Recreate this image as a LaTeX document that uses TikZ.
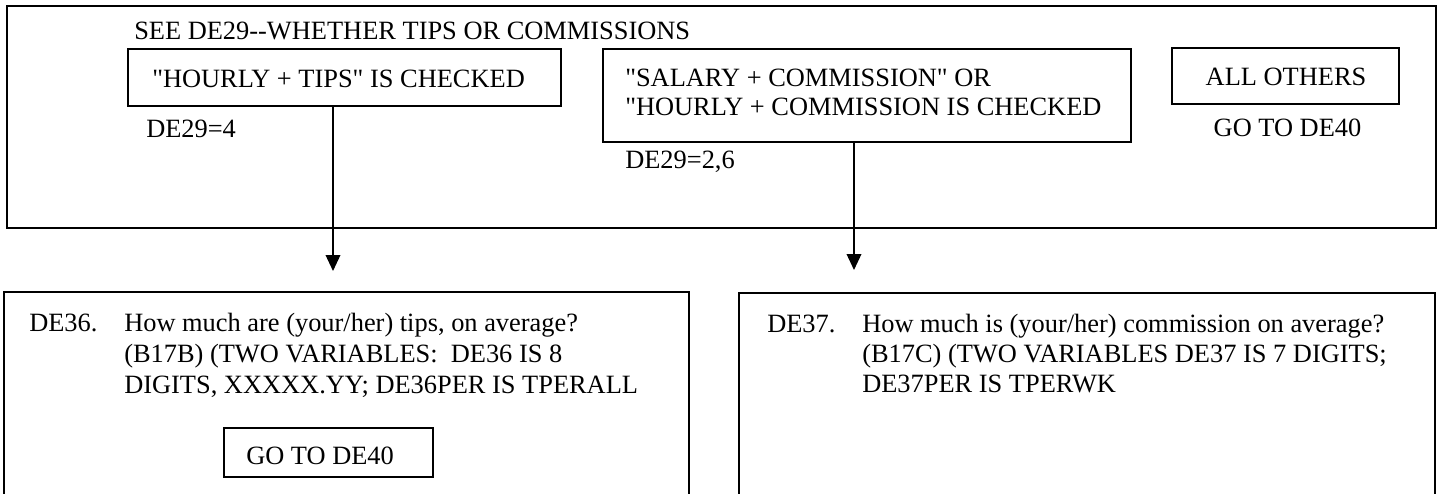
\documentclass[tikz,border=0pt]{standalone}
\usepackage{fontspec}
\setmainfont{Liberation Serif}[Ligatures=TeXOff]
\usetikzlibrary{arrows.meta}
\begin{document}
\begin{tikzpicture}[x=0.75pt,y=-0.75pt,
  txt/.style={anchor=base west,inner sep=0pt,font=\fontsize{19.8}{22}\selectfont},
  ctxt/.style={anchor=base,inner sep=0pt,font=\fontsize{19.8}{22}\selectfont},
  boxn/.style={draw,line width=1.3pt,inner sep=0pt},
  openbox/.style={draw,line width=1.3pt},
  arr/.style={line width=1.1pt,-{Triangle[length=12pt,width=11pt]}}]
\useasboundingbox (0,0) rectangle (1442,493);
% outer frame
\node[boxn,minimum width=1071.75pt,minimum height=166.5pt] (outer) at (721.5,117) {};
\node[txt] (see) at (134,39) {SEE DE29--WHETHER TIPS OR COMMISSIONS};
% condition boxes
\node[boxn,minimum width=324.75pt,minimum height=42.75pt] (box1) at (344.5,77.5) {};
\node[txt] (t1) at (152,87) {"HOURLY + TIPS" IS CHECKED};
\node[txt] (c1) at (146,137) {DE29=4};
\node[boxn,minimum width=396pt,minimum height=69.75pt] (box2) at (867,95.5) {};
\node[txt] (t2a) at (625,86) {"SALARY + COMMISSION" OR};
\node[txt] (t2b) at (625,115) {"HOURLY + COMMISSION IS CHECKED};
\node[txt] (c2) at (625,168) {DE29=2,6};
\node[boxn,minimum width=170.25pt,minimum height=42pt] (box3) at (1285.5,76) {};
\node[ctxt] (t3) at (1286,85) {ALL OTHERS};
\node[ctxt] (g3) at (1287.5,136) {GO TO DE40};
% arrows
\coordinate (e1) at (333,271);
\coordinate (e2) at (854,270);
\draw[arr] (box1.south -| e1) -- (e1);
\draw[arr] (box2.south -| e2) -- (e2);
% bottom open boxes
\draw[openbox] (4,494) -- (4,292) -- (689,292) -- (689,494);
\draw[openbox] (739,494) -- (739,293) -- (1435,293) -- (1435,494);
\node[txt] (q36) at (29,331) {DE36.};
\node[txt] (q36a) at (124,331) {How much are (your/her) tips, on average?};
\node[txt] (q36b) at (124,362) {(B17B) (TWO VARIABLES:\ \ DE36 IS 8};
\node[txt] (q36c) at (124,393) {DIGITS, XXXXX.YY; DE36PER IS TPERALL};
\node[boxn,minimum width=156.75pt,minimum height=36.75pt] (gobox) at (328.5,452.5) {};
\node[txt] (go) at (246,464) {GO TO DE40};
\node[txt] (q37) at (767,332) {DE37.};
\node[txt] (q37a) at (862,332) {How much is (your/her) commission on average?};
\node[txt] (q37b) at (862,362) {(B17C) (TWO VARIABLES DE37 IS 7 DIGITS;};
\node[txt] (q37c) at (862,392) {DE37PER IS TPERWK};
\end{tikzpicture}
\end{document}
